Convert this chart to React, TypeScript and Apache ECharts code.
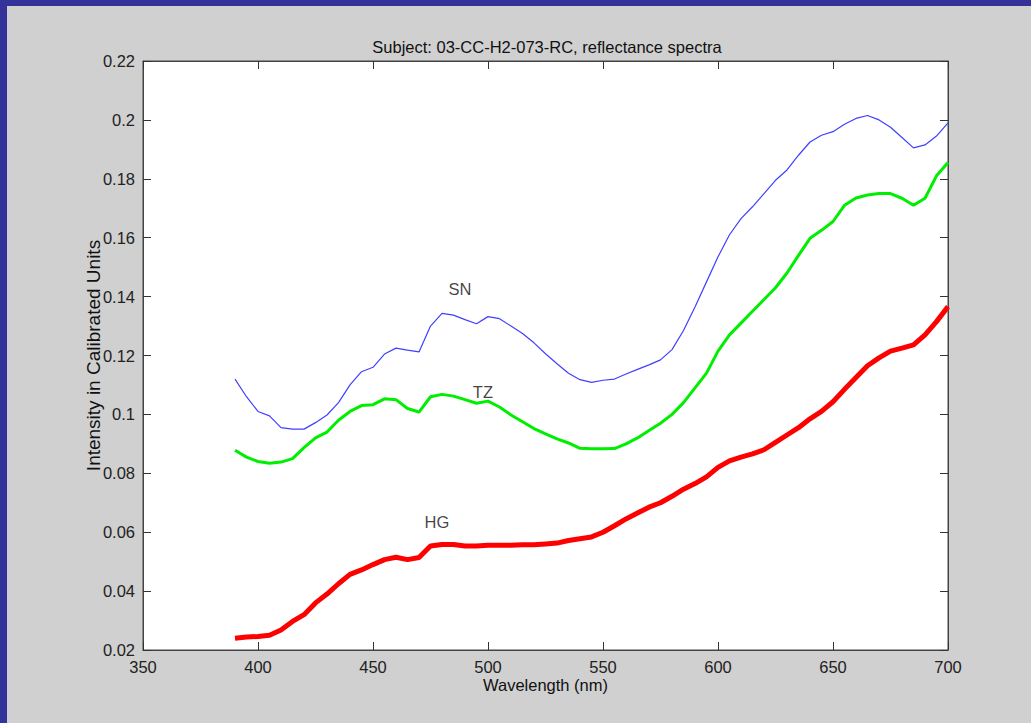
import React, { useEffect, useRef } from "react";
import * as echarts from "echarts";

const wavelengths = [
  390, 395, 400, 405, 410, 415, 420, 425, 430, 435, 440, 445, 450, 455, 460, 465, 470, 475, 480, 485,
  490, 495, 500, 505, 510, 515, 520, 525, 530, 535, 540, 545, 550, 555, 560, 565, 570, 575, 580, 585,
  590, 595, 600, 605, 610, 615, 620, 625, 630, 635, 640, 645, 650, 655, 660, 665, 670, 675, 680, 685,
  690, 695, 700,
];

const snValues = [
  0.112, 0.106, 0.101, 0.0995, 0.0955, 0.095, 0.095, 0.0972, 0.0998, 0.104, 0.11, 0.1145, 0.116, 0.1205,
  0.1225, 0.1218, 0.1212, 0.13, 0.1343, 0.1337, 0.1322, 0.1308, 0.1332, 0.1325, 0.13, 0.1275, 0.1243,
  0.1206, 0.1172, 0.114, 0.1118, 0.1109, 0.1116, 0.112, 0.1137, 0.1153, 0.1168, 0.1185, 0.122, 0.1285,
  0.1365, 0.145, 0.1535, 0.161, 0.1665, 0.1705, 0.175, 0.1795, 0.183, 0.188, 0.1925, 0.1948, 0.196,
  0.1985, 0.2005, 0.2015, 0.2, 0.1975, 0.194, 0.1905, 0.1915, 0.1945, 0.199,
];

const tzValues = [
  0.0878, 0.0855, 0.084, 0.0834, 0.0838, 0.085, 0.0887, 0.092, 0.094, 0.098, 0.101, 0.103, 0.1033, 0.1053,
  0.105, 0.102, 0.1008, 0.106, 0.1068, 0.1062, 0.105, 0.1038, 0.1045, 0.1025, 0.0998, 0.0975, 0.0952,
  0.0934, 0.0917, 0.0903, 0.0885, 0.0883, 0.0883, 0.0884, 0.09, 0.092, 0.0945, 0.097, 0.1, 0.104, 0.109,
  0.114, 0.1215, 0.127, 0.131, 0.135, 0.139, 0.143, 0.148, 0.154, 0.1598, 0.1625, 0.1655, 0.171, 0.1735,
  0.1745, 0.175, 0.175, 0.1734, 0.171, 0.1734, 0.181, 0.1855,
];

const hgValues = [
  0.024, 0.0244, 0.0246, 0.025, 0.0268, 0.0297, 0.032, 0.036, 0.039, 0.0425, 0.0457, 0.0472, 0.049, 0.0507,
  0.0515, 0.0507, 0.0514, 0.0553, 0.0558, 0.0558, 0.0553, 0.0553, 0.0556, 0.0556, 0.0556, 0.0557, 0.0557,
  0.056, 0.0563, 0.0572, 0.0578, 0.0584, 0.06, 0.0622, 0.0645, 0.0665, 0.0685, 0.07, 0.0722, 0.0746,
  0.0765, 0.0788, 0.082, 0.0842, 0.0855, 0.0866, 0.088, 0.0905, 0.093, 0.0955, 0.0985, 0.101, 0.1043,
  0.1085, 0.1125, 0.1165, 0.1192, 0.1215, 0.1225, 0.1236, 0.127, 0.1315, 0.1366,
];

const labelNames = ["SN", "TZ", "HG"];
const labelX = [487.8, 497.8, 477.8];
const labelY = [0.1426, 0.1076, 0.0635];

const xTicks = [350, 400, 450, 500, 550, 600, 650, 700];
const yTicks = [0.02, 0.04, 0.06, 0.08, 0.1, 0.12, 0.14, 0.16, 0.18, 0.2, 0.22];

const titleText = "Subject: 03-CC-H2-073-RC, reflectance spectra";
const FONT = "'Liberation Sans', Arial, sans-serif";

function pairs(vals: number[]) {
  return wavelengths.map((w, i) => [w, vals[i]]);
}

export default function App() {
  const ref = useRef<HTMLDivElement>(null);
  useEffect(() => {
    if (!ref.current) return;
    const chart = echarts.init(ref.current, undefined, { renderer: "svg" });
    const fmt = (v: number) => String(parseFloat(v.toFixed(3)));
    const tickStyle = { show: true, inside: true, length: 8, lineStyle: { color: "#333", width: 1 } };
    const lineStyle = { color: "#444", width: 1 };
    chart.setOption({
      animation: false,
      backgroundColor: "#d0d0d0",
      title: {
        text: titleText,
        left: 535,
        top: 27,
        textAlign: "center",
        textStyle: { fontFamily: FONT, fontSize: 16.5, fontWeight: "normal", color: "#111" },
      },
      grid: {
        left: 136,
        top: 55,
        width: 805,
        height: 589,
        show: true,
        backgroundColor: "#ffffff",
        borderColor: "#444",
        borderWidth: 1,
      },
      xAxis: [
        {
          type: "value",
          min: xTicks[0],
          max: xTicks[xTicks.length - 1],
          interval: 50,
          position: "bottom",
          name: "Wavelength (nm)",
          nameLocation: "middle",
          nameGap: 26,
          nameMoveOverlap: false,
          nameTextStyle: { fontFamily: FONT, fontSize: 16.5, color: "#111" },
          axisLine: { show: true, lineStyle },
          axisTick: tickStyle,
          axisLabel: { margin: 8, fontFamily: FONT, fontSize: 16.5, color: "#222", formatter: fmt },
          splitLine: { show: false },
        },
        {
          type: "value",
          min: xTicks[0],
          max: xTicks[xTicks.length - 1],
          interval: 50,
          position: "top",
          axisLine: { show: true, lineStyle },
          axisTick: tickStyle,
          axisLabel: { show: false },
          splitLine: { show: false },
        },
      ],
      yAxis: [
        {
          type: "value",
          min: yTicks[0],
          max: yTicks[yTicks.length - 1],
          interval: 0.02,
          position: "left",
          name: "Intensity in Calibrated Units",
          nameLocation: "middle",
          nameGap: 40,
          nameMoveOverlap: false,
          nameTextStyle: { fontFamily: FONT, fontSize: 19, color: "#111" },
          axisLine: { show: true, lineStyle },
          axisTick: tickStyle,
          axisLabel: { margin: 8, fontFamily: FONT, fontSize: 16.5, color: "#222", formatter: fmt },
          splitLine: { show: false },
        },
        {
          type: "value",
          min: yTicks[0],
          max: yTicks[yTicks.length - 1],
          interval: 0.02,
          position: "right",
          axisLine: { show: true, lineStyle },
          axisTick: tickStyle,
          axisLabel: { show: false },
          splitLine: { show: false },
        },
      ],
      series: [
        {
          name: "SN",
          type: "line",
          data: pairs(snValues),
          showSymbol: false,
          lineStyle: { color: "#4040ff", width: 1.2 },
        },
        {
          name: "TZ",
          type: "line",
          data: pairs(tzValues),
          showSymbol: false,
          lineStyle: { color: "#00ee00", width: 3 },
        },
        {
          name: "HG",
          type: "line",
          data: pairs(hgValues),
          showSymbol: false,
          lineStyle: { color: "#ff0000", width: 5 },
        },
        {
          name: "labels",
          type: "scatter",
          symbolSize: 0,
          data: labelNames.map((n, i) => ({ name: n, value: [labelX[i], labelY[i]] })),
          label: {
            show: true,
            position: "inside",
            formatter: (p: any) => p.name,
            fontFamily: FONT,
            fontSize: 16.5,
            color: "#111",
          },
          silent: true,
        },
      ],
    });
    return () => chart.dispose();
  }, []);
  return (
    <div
      style={{
        position: "fixed",
        left: 0,
        top: 0,
        width: 1031,
        height: 723,
        background: "#333399",
      }}
    >
      <div ref={ref} style={{ position: "absolute", left: 7, top: 6, width: 1024, height: 717 }} />
    </div>
  );
}
